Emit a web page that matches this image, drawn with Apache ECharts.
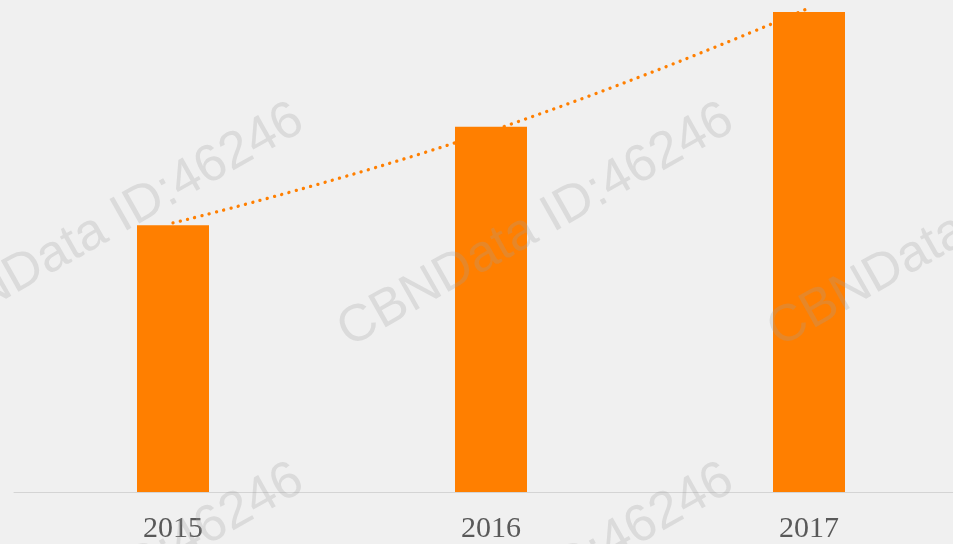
<!doctype html>
<html lang="zh">
<head>
    <meta charset="UTF-8">
    <script src="https://cdn.jsdelivr.net/npm/echarts@6/dist/echarts.min.js"></script>
    <title>CBNData</title>
    <style>
        html, body { margin: 0; padding: 0; background: #f0f0f0; overflow: hidden; }
    </style>
</head>
<body>
<!-- 图表比窗口略宽，右侧被裁掉 -->
<div id="main" style="width: 968px;height:544px;"></div>
<script type="text/javascript">
    // 数据
    var years = ['2015', '2016', '2017'];
    var barValues = [100, 137, 180];
    var trendValues = [100.9, 135.4, 181.5];

    // 水印位置
    var markX = [-75, 355, 785];
    var markY = [358, 718];

    var marks = [];
    for (var i = 0; i < markX.length; i++) {
        for (var j = 0; j < markY.length; j++) {
            marks.push({
                type: 'text',
                x: markX[i],
                y: markY[j],
                rotation: 29.5 * Math.PI / 180,
                z: 100,
                silent: true,
                style: {
                    text: 'CBNData ID:46246',
                    font: '52px "Liberation Sans", Arial, sans-serif',
                    fill: 'rgba(160,160,160,0.26)',
                    align: 'left',
                    verticalAlign: 'bottom'
                }
            });
        }
    }

    var myChart = echarts.init(document.getElementById('main'));

    var option = {
        backgroundColor: '#f0f0f0',
        animation: false,
        grid: {
            left: 14,
            right: 0,
            top: 0,
            bottom: 52,
            containLabel: false
        },
        xAxis: {
            type: 'category',
            data: years,
            boundaryGap: true,
            axisLine: { lineStyle: { color: '#d4d4d4', width: 1 } },
            axisTick: { show: false },
            axisLabel: {
                color: '#595959',
                fontFamily: 'Liberation Serif, Times New Roman, serif',
                fontSize: 30,
                margin: 22
            }
        },
        yAxis: {
            type: 'value',
            min: 0,
            max: 184.5,
            show: false,
            splitLine: { show: false }
        },
        graphic: marks,
        series: [
            {
                name: '趋势',
                type: 'line',
                data: trendValues,
                smooth: true,
                symbol: 'none',
                z: 2,
                lineStyle: {
                    color: '#ff7f00',
                    width: 3.3,
                    type: [0.1, 7.4],
                    cap: 'round'
                }
            },
            {
                name: '数值',
                type: 'bar',
                data: barValues,
                barWidth: 72,
                z: 3,
                itemStyle: { color: '#ff7f00' }
            }
        ]
    };

    myChart.setOption(option);
</script>
</body>
</html>
